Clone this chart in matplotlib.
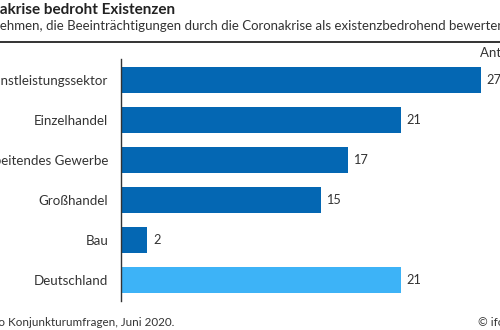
import matplotlib.pyplot as plt
from matplotlib.lines import Line2D

# data (share of firms, %)
categories = ["Dienstleistungssektor", "Einzelhandel", "Verarbeitendes Gewerbe",
              "Großhandel", "Bau", "Deutschland"]
values = [27, 21, 17, 15, 2, 21]
bar_colors = ["#0467b3", "#0467b3", "#0467b3", "#0467b3", "#0467b3", "#3db3f7"]

title = "Coronakrise bedroht Existenzen"
subtitle = "Anteil der Unternehmen, die Beeinträchtigungen durch die Coronakrise als existenzbedrohend bewerten"
unit_label = "Anteil in %"
source = "Quelle: ifo Konjunkturumfragen, Juni 2020."
copyright_txt = "© ifo Institut"

plt.rcParams['font.family'] = ['Lato', 'DejaVu Sans']

W, H = 500, 330
fig = plt.figure(figsize=(W / 100, H / 100), dpi=100)


def fx(px):
    return px / W


def fy(py):
    return 1 - py / H


# axes placed in pixel terms
ax = fig.add_axes([fx(120.7), fy(301), fx(379.3), (301 - 59) / H])
ypos = list(range(len(categories)))
ax.barh(ypos, values, height=0.64, color=bar_colors)
ax.set_xlim(0, 379.3 / 13.35)
ax.set_ylim(len(categories) - 0.475, -0.525)

ax.set_yticks(ypos)
ax.set_yticklabels(categories, fontsize=9.6, color="#333333")
ax.tick_params(axis='y', length=0, pad=9)
ax.set_xticks([])
for s in ["top", "right", "bottom"]:
    ax.spines[s].set_visible(False)
ax.spines["left"].set_color("#333333")
ax.spines["left"].set_linewidth(1.0)

for y, v in zip(ypos, values):
    ax.annotate(str(v), (v, y), xytext=(4, 0), textcoords="offset points",
                va="center", ha="left", fontsize=9.2, color="#333333",
                annotation_clip=False)

# header
fig.text(fx(175), fy(10), title, ha="right", va="center", fontsize=11,
         fontweight="bold", color="#222222")
fig.text(fx(505), fy(26), subtitle, ha="right", va="center", fontsize=9.5,
         color="#333333")
fig.add_artist(Line2D([0, 1], [fy(42), fy(42)], color="#333333", linewidth=1.4,
                      transform=fig.transFigure))
fig.text(fx(480), fy(53), unit_label, ha="left", va="center", fontsize=9.5,
         color="#333333")

# footer
fig.text(fx(174), fy(322), source, ha="right", va="center", fontsize=8.4,
         color="#333333")
fig.text(fx(478), fy(322), copyright_txt, ha="left", va="center", fontsize=8.4,
         color="#333333")

fig.savefig("out.png", dpi=100)
